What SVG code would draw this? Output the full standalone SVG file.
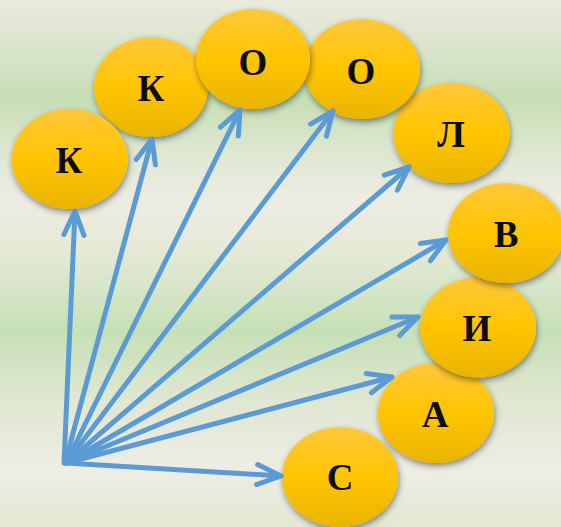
<svg xmlns="http://www.w3.org/2000/svg" width="561" height="527" viewBox="0 0 561 527">
  <defs>
    <linearGradient id="bg" x1="0" y1="0" x2="0" y2="1">
      <stop offset="0" stop-color="#EAEADD"/>
      <stop offset="0.08" stop-color="#DCE6CF"/>
      <stop offset="0.19" stop-color="#C5DEB4"/>
      <stop offset="0.28" stop-color="#DDE6D0"/>
      <stop offset="0.38" stop-color="#EDECE2"/>
      <stop offset="0.47" stop-color="#E6EAD8"/>
      <stop offset="0.63" stop-color="#C6E0B6"/>
      <stop offset="0.76" stop-color="#E0E7D2"/>
      <stop offset="0.89" stop-color="#EEEDE3"/>
      <stop offset="1" stop-color="#E2E8D4"/>
    </linearGradient>
    <linearGradient id="gold" x1="0" y1="0" x2="0" y2="1">
      <stop offset="0" stop-color="#FFC73C"/>
      <stop offset="0.5" stop-color="#FFC500"/>
      <stop offset="1" stop-color="#E9B400"/>
    </linearGradient>
    <filter id="shadow" x="-20%" y="-20%" width="140%" height="150%">
      <feDropShadow dx="1" dy="3" stdDeviation="3" flood-color="#000" flood-opacity="0.45"/>
    </filter>
    <marker id="head" viewBox="-30 -15 36 30" markerWidth="36" markerHeight="30" refX="0" refY="0" orient="auto" markerUnits="userSpaceOnUse">
      <path d="M-24,-10 L0,0 L-24,10" fill="none" stroke="#5B9BD5" stroke-width="5" stroke-linecap="round" stroke-linejoin="round"/>
    </marker>
  </defs>
  <style>
    .node ellipse { fill: url(#gold); filter: url(#shadow); }
    .node text { font-family: "Liberation Serif", "Times New Roman", serif; font-weight: bold; font-size: 37px; fill: #0D0D0D; text-anchor: middle; }
    .link { stroke: #5B9BD5; stroke-width: 5; stroke-linecap: round; fill: none; marker-end: url(#head); }
  </style>

  <rect width="561" height="527" fill="url(#bg)"/>

  <!-- letter bubbles -->
  <g id="n-s" class="node"><ellipse cx="340" cy="477" rx="58" ry="50"/><text x="340" y="490">С</text></g>
  <g id="n-a" class="node"><ellipse cx="436" cy="413" rx="58" ry="50"/><text x="435" y="427">А</text></g>
  <g id="n-i" class="node"><ellipse cx="478" cy="327.5" rx="58" ry="50"/><text x="477" y="341">И</text></g>
  <g id="n-v" class="node"><ellipse cx="506" cy="233" rx="58" ry="50"/><text x="506" y="247">В</text></g>
  <g id="n-l" class="node"><ellipse cx="451.5" cy="133" rx="58" ry="50"/><text x="451" y="147">Л</text></g>
  <g id="n-o2" class="node"><ellipse cx="362" cy="69" rx="58" ry="50"/><text x="361" y="84">О</text></g>
  <g id="n-k2" class="node"><ellipse cx="151" cy="87" rx="57" ry="50"/><text x="151" y="101">К</text></g>
  <g id="n-o1" class="node"><ellipse cx="253" cy="59" rx="57" ry="50"/><text x="253" y="75">О</text></g>
  <g id="n-k1" class="node"><ellipse cx="69.7" cy="159" rx="58" ry="50"/><text x="69" y="173">К</text></g>

  <!-- arrows fanning out from the common origin -->
  <g id="connectors">
    <line class="link" x1="64" y1="463" x2="75" y2="211"/>
    <line class="link" x1="65" y1="463" x2="152" y2="139"/>
    <line class="link" x1="66" y1="463" x2="240" y2="110"/>
    <line class="link" x1="66" y1="463" x2="333" y2="111"/>
    <line class="link" x1="66" y1="463" x2="409" y2="167"/>
    <line class="link" x1="66" y1="463" x2="446" y2="240"/>
    <line class="link" x1="66" y1="463" x2="418" y2="317"/>
    <line class="link" x1="66" y1="463" x2="392" y2="377"/>
    <line class="link" x1="66" y1="463" x2="281" y2="476"/>
  </g>
</svg>
